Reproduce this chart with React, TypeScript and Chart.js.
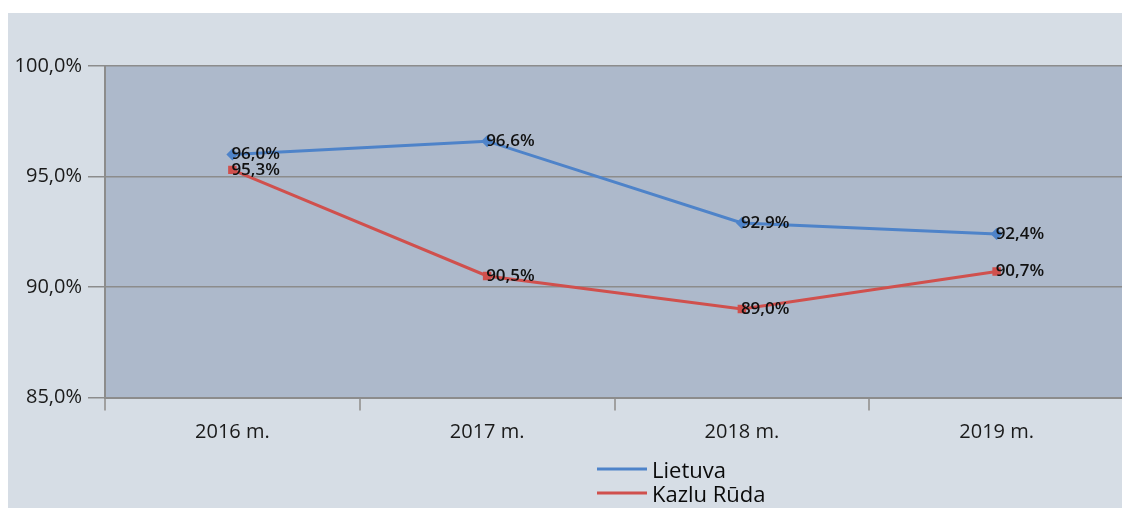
import React, { useEffect, useRef } from "react";
import { Chart, registerables } from "chart.js";

Chart.register(...registerables);

const categories = ["2016 m.", "2017 m.", "2018 m.", "2019 m."];
const lietuva = [96.0, 96.6, 92.9, 92.4];
const kazluRuda = [95.3, 90.5, 89.0, 90.7];
const seriesNames = ["Lietuva", "Kazlu Rūda"];
const yTicks = [85, 90, 95, 100];

const fmt = (v: number) => v.toFixed(1).replace(".", ",") + "%";

const OUTER_BG = "#D6DDE5";
const PLOT_BG = "#ADB9CB";
const GRID = "#8C8C8C";
const BLUE = "#4E83C9";
const RED = "#D0504D";
const FONT = "'Open Sans', 'DejaVu Sans', sans-serif";

const bgPlugin = {
  id: "bgPlugin",
  beforeDraw(chart: any) {
    const { ctx, chartArea } = chart;
    ctx.save();
    ctx.fillStyle = "#FFFFFF";
    ctx.fillRect(0, 0, chart.width, chart.height);
    ctx.fillStyle = OUTER_BG;
    ctx.fillRect(8, 13, chart.width - 8, chart.height - 13);
    ctx.fillStyle = PLOT_BG;
    ctx.fillRect(chartArea.left, chartArea.top, chartArea.right - chartArea.left, chartArea.bottom - chartArea.top);
    ctx.restore();
  },
};

const labelPlugin = {
  id: "labelPlugin",
  afterDatasetsDraw(chart: any) {
    const { ctx } = chart;
    ctx.save();
    ctx.font = `600 17px ${FONT}`;
    ctx.fillStyle = "#111111";
    ctx.textAlign = "left";
    ctx.textBaseline = "middle";
    chart.data.datasets.forEach((ds: any, i: number) => {
      const meta = chart.getDatasetMeta(i);
      meta.data.forEach((pt: any, j: number) => {
        ctx.fillText(fmt(ds.data[j]), pt.x - 1, pt.y);
      });
    });
    ctx.restore();
  },
  afterDraw(chart: any) {
    const { ctx } = chart;
    ctx.save();
    ctx.font = `22px ${FONT}`;
    ctx.textAlign = "left";
    ctx.textBaseline = "middle";
    chart.data.datasets.forEach((ds: any, i: number) => {
      const y = 469 + i * 24;
      ctx.strokeStyle = ds.borderColor;
      ctx.lineWidth = 3;
      ctx.beginPath();
      ctx.moveTo(597, y);
      ctx.lineTo(647, y);
      ctx.stroke();
      ctx.fillStyle = "#0A0A0A";
      ctx.fillText(ds.label, 652, y + 3);
    });
    ctx.restore();
  },
};

export default function App() {
  const ref = useRef<HTMLCanvasElement | null>(null);
  useEffect(() => {
    if (!ref.current) return;
    const chart = new Chart(ref.current, {
      type: "line",
      data: {
        labels: categories,
        datasets: [
          {
            label: seriesNames[0],
            data: lietuva,
            borderColor: BLUE,
            backgroundColor: BLUE,
            borderWidth: 3,
            pointStyle: "rectRot",
            pointRadius: 6,
            pointBorderWidth: 0,
            tension: 0,
          },
          {
            label: seriesNames[1],
            data: kazluRuda,
            borderColor: RED,
            backgroundColor: RED,
            borderWidth: 3,
            pointStyle: "rect",
            pointRadius: 6,
            pointBorderWidth: 0,
            tension: 0,
          },
        ],
      },
      options: {
        animation: false,
        responsive: false,
        maintainAspectRatio: false,
        layout: { padding: { top: 66, right: 5, bottom: 0, left: 0 } },
        plugins: {
          legend: { display: false },
          tooltip: { enabled: false },
        },
        scales: {
          x: {
            offset: true,
            afterFit(scale: any) {
              scale.height = 110.5;
            },
            grid: {
              offset: true,
              drawOnChartArea: false,
              drawTicks: true,
              tickLength: 13,
              color: "#A0A0A0",
              lineWidth: 2,
            },
            border: { display: true, color: GRID, width: 2 },
            ticks: {
              padding: 10,
              color: "#1A1A1A",
              font: { family: FONT, size: 20 },
            },
          },
          y: {
            min: 85,
            max: 100,
            afterFit(scale: any) {
              scale.width = 105;
            },
            afterBuildTicks(scale: any) {
              scale.ticks = yTicks.map((v) => ({ value: v }));
            },
            grid: {
              color: GRID,
              lineWidth: 1.5,
              tickLength: 17,
              drawTicks: true,
            },
            border: { display: true, color: GRID, width: 2 },
            ticks: {
              padding: 6,
              color: "#1A1A1A",
              font: { family: FONT, size: 20 },
              callback: (v: any) => fmt(Number(v)),
            },
          },
        },
      },
      plugins: [bgPlugin, labelPlugin],
    });
    return () => chart.destroy();
  }, []);
  return (
    <div style={{ position: "fixed", left: 0, top: 0, width: 1122, height: 508, overflow: "hidden" }}>
      <canvas ref={ref} width={1130} height={508} style={{ display: "block", width: 1130, height: 508 }} />
    </div>
  );
}
